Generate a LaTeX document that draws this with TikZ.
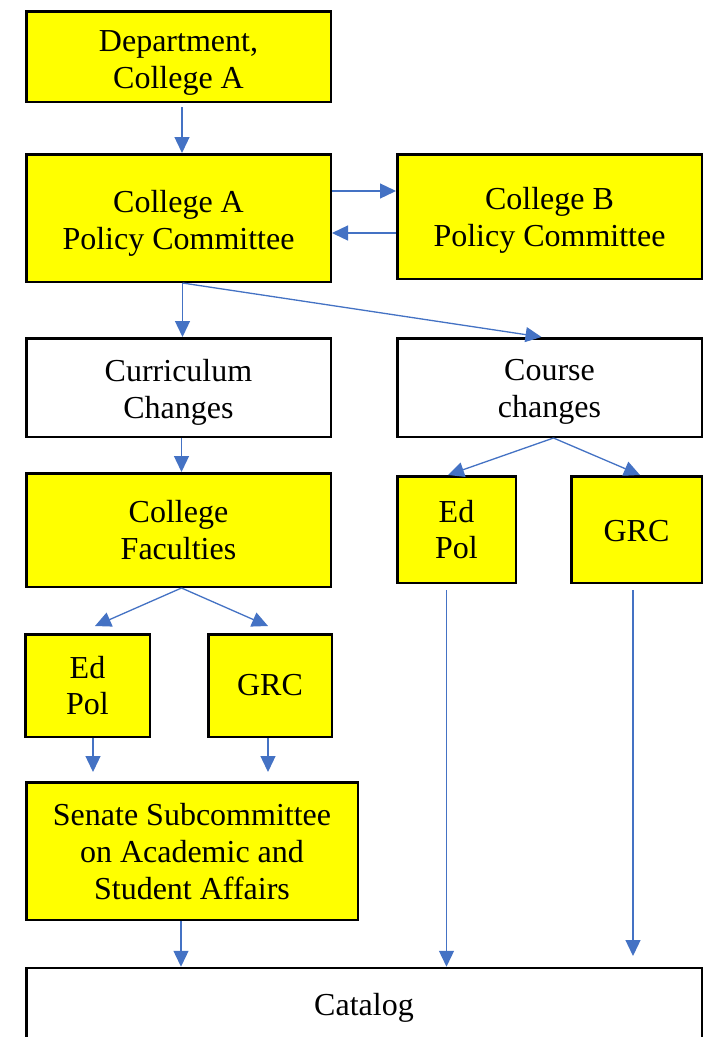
\documentclass[tikz,border=0pt]{standalone}
\usepackage{fontspec}
\setmainfont{Liberation Serif}
\usetikzlibrary{arrows.meta,calc}
\definecolor{boxyellow}{HTML}{FFFF00}
\definecolor{arrowblue}{HTML}{4472C4}
\begin{document}
\begin{tikzpicture}[x=1pt,y=-1pt,
  box/.style={draw=black, line width=2.5pt, fill=boxyellow, inner sep=0pt},
  wbox/.style={box, fill=white},
  txt/.style={align=center, inner sep=0pt, font=\fontsize{32}{36.8}\selectfont},
  arr/.style={draw=arrowblue, line width=1.3pt, -{Triangle[length=16pt,width=15pt]}}]
\useasboundingbox (0,0) rectangle (708,1037);
\fill[white] (0,0) rectangle (708,1037);

% boxes
\node[box, minimum width=304.5pt, minimum height=90.5pt] (dept) at (178.5,56.5) {};
\node[box, minimum width=304.5pt, minimum height=127.5pt] (colA) at (178.5,218) {};
\node[box, minimum width=304.5pt, minimum height=124.5pt] (colB) at (549.5,216.5) {};
\node[wbox, minimum width=304.5pt, minimum height=98.5pt] (curr) at (178.5,387.5) {};
\node[wbox, minimum width=304.5pt, minimum height=98.5pt] (course) at (549.5,387.5) {};
\node[box, minimum width=304.5pt, minimum height=113.5pt] (fac) at (178.5,530) {};
\node[box, minimum width=118.5pt, minimum height=106.5pt] (edR) at (456.5,529.5) {};
\node[box, minimum width=130.5pt, minimum height=106.5pt] (grcR) at (636.5,529.5) {};
\node[box, minimum width=124.5pt, minimum height=102.5pt] (edL) at (87.5,685.5) {};
\node[box, minimum width=123.5pt, minimum height=102.5pt] (grcL) at (270,685.5) {};
\node[box, minimum width=331.5pt, minimum height=137.5pt] (senate) at (192,851) {};
\node[wbox, minimum width=675.5pt, minimum height=74pt] (catalog) at (364,1005) {};

% texts
\node[txt] (deptT) at ($(dept.center)+(0,6.5)$) {Department,\\College A};
\node[txt] (colAT) at ($(colA.center)+(0,5)$) {College A\\Policy Committee};
\node[txt] (colBT) at ($(colB.center)+(0,3.5)$) {College B\\Policy Committee};
\node[txt] (currT) at ($(curr.center)+(0,4.5)$) {Curriculum\\Changes};
\node[txt] (courseT) at ($(course.center)+(0,4.75)$) {Course\\changes};
\node[txt] (facT) at (fac.center) {College\\Faculties};
\node[txt] (edRT) at (edR.center) {Ed\\Pol};
\node[txt] (grcRT) at ($(grcR.center)+(0,2)$) {GRC};
\node[txt] (edLT) at (edL.center) {Ed\\Pol};
\node[txt] (grcLT) at (grcL.center) {GRC};
\node[txt] (senateT) at ($(senate.center)+(0,0.5)$) {Senate Subcommittee\\on Academic and\\Student Affairs};
\node[txt] (catalogT) at ($(catalog.center)+(0,2.5)$) {Catalog};
\coordinate (grcEnd) at (633,956);

% connectors
\draw[arr] ($(dept.south)+(3.5,4)$) -- ($(colA.north)+(3.5,0)$);
\draw[arr] ($(colA.east)+(0,-27)$) -- ($(colB.west)+(0,-25.5)$);
\draw[arr] ($(colB.west)+(0,16.5)$) -- ($(colA.east)+(0,15)$);
\draw[arr] ($(colA.south)+(4,0)$) -- ($(curr.north)+(4,0)$);
\draw[arr] ($(colA.south)+(4,0)$) -- ($(course.north)+(-8,0)$);
\draw[arr] ($(curr.south)+(3,0)$) -- ($(fac.north)+(3,0)$);
\draw[arr] ($(course.south)+(4,0)$) -- ($(edR.north)+(-8.5,0)$);
\draw[arr] ($(course.south)+(4,0)$) -- ($(grcR.north)+(3.5,0)$);
\draw[arr] ($(fac.south)+(3,0)$) -- ($(edL.north)+(7.5,-7)$);
\draw[arr] ($(fac.south)+(3,0)$) -- ($(grcL.north)+(-2,-7)$);
\draw[arr] ($(edL.south)+(5.5,0)$) -- ($(senate.north)+(-99,-9)$);
\draw[arr] ($(grcL.south)+(-2,0)$) -- ($(senate.north)+(76,-9)$);
\draw[arr] ($(senate.south)+(-11,0)$) -- ($(catalog.north)+(-183,0)$);
\draw[arr] ($(edR.south)+(-10,6)$) -- ($(catalog.north)+(82.5,0)$);
\draw[arr] ($(grcR.south)+(-3.5,6)$) -- (grcEnd);
\end{tikzpicture}
\end{document}
